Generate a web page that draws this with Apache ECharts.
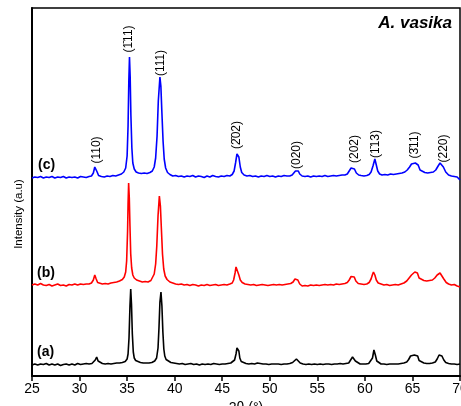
<!DOCTYPE html>
<html>
<head>
<meta charset="utf-8">
<script src="https://cdn.jsdelivr.net/npm/echarts@6/dist/echarts.min.js"></script>
<style>
  html, body { margin: 0; padding: 0; background: #fff; }
  #xrd { width: 461px; height: 406px; }
</style>
</head>
<body>
<div id="xrd"></div>
<script>
// 2θ axis ticks
const xTicks = [25, 30, 35, 40, 45, 50, 55, 60, 65, 70];

// patterns: [2θ, intensity (a.u., offset stacked)]
const patternA = [
  [25,11],[25.3,12],[25.6,11],[25.9,12],[26.2,11.5],[26.5,12.5],[26.8,11],[27.1,12],[27.4,11],[27.7,12],
  [28,10.5],[28.3,11.5],[28.6,12],[28.9,11],[29.2,12],[29.5,11],[29.8,12.5],[30.1,11.5],[30.4,12],[30.7,12.5],
  [31,12],[31.3,12.5],[31.5,13.5],[31.65,16],[31.8,19],[31.95,15],[32.1,13],[32.4,12.5],[32.7,12],[33,12.5],
  [33.3,12],[33.6,12.5],[33.9,13],[34.2,13],[34.5,13.5],[34.8,14.5],[35.0,17],[35.1,22],[35.2,38],[35.3,70],
  [35.38,87],[35.46,72],[35.55,42],[35.65,24],[35.75,18],[35.9,15.5],[36.1,14],[36.4,13.5],[36.7,13],[37,13],
  [37.3,13],[37.6,13.5],[37.9,15],[38.1,18],[38.25,28],[38.35,48],[38.45,74],[38.56,84],[38.66,70],[38.76,44],
  [38.86,27],[38.96,20],[39.1,16.5],[39.3,14.5],[39.6,13.5],[39.9,13],[40.2,12.5],[40.5,12],[40.8,12.5],[41.1,11.5],
  [41.4,12],[41.7,12.5],[42,11.5],[42.3,12],[42.6,11],[42.9,12],[43.2,11.5],[43.5,12],[43.8,11.5],[44.1,12.5],
  [44.4,12],[44.7,11.5],[45,12],[45.3,12],[45.6,12.5],[45.9,13],[46.1,13.5],[46.3,16],[46.45,22],[46.55,28],
  [46.65,29],[46.75,25],[46.85,18],[47,14.5],[47.2,13],[47.5,12.5],[47.8,12],[48.1,12.5],[48.4,12],[48.7,13],
  [49,12.5],[49.3,12],[49.6,12],[49.9,11.5],[50.2,12],[50.5,12],[50.7,13],[50.9,12],[51.2,11.5],[51.5,12],
  [51.8,12],[52.1,12.5],[52.4,13.5],[52.6,15.5],[52.8,17],[53,15],[53.2,13],[53.5,12],[53.8,11.5],[54.1,12],
  [54.4,11.5],[54.7,12],[55,11.5],[55.3,12],[55.6,11.5],[55.9,12],[56.2,12],[56.5,11.5],[56.8,12],[57.1,12],
  [57.4,12.5],[57.7,12],[58,12.5],[58.3,13],[58.5,15],[58.7,19],[58.85,18],[59,15],[59.2,13],[59.5,12],
  [59.8,12],[60.1,12],[60.4,12.5],[60.6,13.5],[60.8,18],[60.95,26],[61.1,21],[61.25,15],[61.4,13],[61.7,12],
  [62,12],[62.3,11.5],[62.6,12],[62.9,12],[63.2,12],[63.5,12],[63.8,12.5],[64.1,13],[64.4,14],[64.6,16.5],
  [64.8,20],[65,20.5],[65.2,21],[65.4,23],[65.55,20],[65.7,15.5],[65.9,13.5],[66.2,13],[66.5,12.5],[66.8,12.5],
  [67.1,13],[67.4,14],[67.6,17],[67.8,21],[67.95,23],[68.1,20],[68.3,16],[68.5,13.5],[68.8,12.5],[69.1,12],
  [69.4,12],[69.7,11.5],[70,12]
];

const patternB = [
  [25,91],[25.3,92],[25.6,91],[25.9,92.5],[26.2,91],[26.5,90.5],[26.8,91.5],[27.1,90],[27.4,91],[27.7,92],
  [28,90.5],[28.3,91],[28.6,90],[28.9,91.5],[29.2,91],[29.5,92],[29.8,91],[30.1,92],[30.4,91.5],[30.7,92],
  [31,92],[31.25,93],[31.45,96],[31.6,101],[31.75,97],[31.9,93.5],[32.1,92.5],[32.4,92],[32.7,92.5],[33,92],
  [33.3,93],[33.6,93.5],[33.9,94],[34.2,95],[34.5,96.5],[34.7,99],[34.85,104],[34.95,115],[35.05,145],[35.1,172],
  [35.16,193],[35.23,178],[35.3,150],[35.38,122],[35.48,108],[35.6,101],[35.75,98],[36,96],[36.3,95],[36.6,94],
  [36.9,94.5],[37.2,94],[37.5,95.5],[37.7,97.5],[37.85,102],[38,112],[38.12,130],[38.25,160],[38.39,180],[38.5,170],
  [38.6,148],[38.72,122],[38.85,107],[39,100],[39.2,96.5],[39.5,94],[39.8,93],[40.1,92],[40.4,91.5],[40.7,92],
  [41,91],[41.3,91.5],[41.6,90.5],[41.9,91.5],[42.2,91],[42.5,90],[42.8,91],[43.1,90.5],[43.4,91.5],[43.7,90.5],
  [44,91],[44.3,91.5],[44.6,90.5],[44.9,91],[45.2,91.5],[45.5,91],[45.8,92],[46.05,93],[46.2,96],[46.35,103],
  [46.45,109],[46.52,111],[46.62,109],[46.75,101],[46.9,96],[47.1,93.5],[47.4,92],[47.7,91.5],[48,91],[48.3,91.5],
  [48.6,90.5],[48.9,91],[49.2,91.5],[49.5,91],[49.8,90.5],[50.1,91],[50.4,91.5],[50.7,91],[51,91.5],[51.3,91],
  [51.6,91.5],[51.9,92],[52.2,92.5],[52.45,94],[52.65,97],[52.78,99],[52.95,96],[53.15,92],[53.4,90],[53.7,90.5],
  [54,90],[54.3,91],[54.6,90.5],[54.9,91],[55.2,90.5],[55.5,91],[55.8,91.5],[56.1,91],[56.4,91.5],[56.7,91],
  [57,92],[57.3,91.5],[57.6,92],[57.9,92.5],[58.15,93.5],[58.35,96],[58.55,99.5],[58.72,101],[58.88,99],[59.05,95],
  [59.3,92.5],[59.6,92],[59.9,91.5],[60.2,92],[60.45,93.5],[60.65,97],[60.8,101.5],[60.9,104],[61.05,101],[61.2,96],
  [61.4,93],[61.7,92],[62,91],[62.3,91.5],[62.6,90.5],[62.9,91],[63.2,91.5],[63.5,91],[63.8,92],[64.1,93],
  [64.4,95],[64.65,98],[64.9,101],[65.1,100.5],[65.25,104],[65.38,106],[65.52,103],[65.7,98],[65.9,96],[66.2,95.5],
  [66.5,95],[66.8,95.5],[67.1,96],[67.35,98],[67.6,101],[67.9,103],[68.1,101],[68.3,97],[68.55,93.5],[68.8,92],
  [69.1,91],[69.4,91.5],[69.7,90],[70,89]
];

const patternC = [
  [25,198],[25.3,199],[25.6,198.5],[25.9,199.5],[26.2,198],[26.5,199],[26.8,198.5],[27.1,199.5],[27.4,198],[27.7,199],
  [28,198.5],[28.3,199.5],[28.6,198],[28.9,199],[29.2,198.5],[29.5,199],[29.8,198],[30.1,199.5],[30.4,199],[30.7,198.5],
  [31,199.5],[31.25,200],[31.45,203],[31.6,209],[31.7,210],[31.85,204],[32,200.5],[32.3,199.5],[32.6,199],[32.9,200],
  [33.2,199.5],[33.5,200.5],[33.8,200],[34.1,201],[34.4,202],[34.65,204],[34.85,208],[35.0,220],[35.1,250],[35.18,295],
  [35.25,319],[35.32,300],[35.4,260],[35.5,228],[35.6,213],[35.75,207],[35.95,204],[36.2,203],[36.5,202.5],[36.8,203],
  [37.1,202.5],[37.4,203.5],[37.65,205],[37.85,209],[38.0,218],[38.15,240],[38.28,275],[38.45,299],[38.55,290],[38.65,265],
  [38.78,235],[38.9,217],[39.05,208],[39.25,203.5],[39.5,201.5],[39.8,200],[40.1,200.5],[40.4,199.5],[40.7,200],[41,199],
  [41.3,200],[41.6,199.5],[41.9,200.5],[42.2,199],[42.5,200],[42.8,199.5],[43.1,198.5],[43.4,200],[43.7,199],[44,200.5],
  [44.3,199.5],[44.6,199],[44.9,200],[45.2,199.5],[45.5,200.5],[45.8,200],[46.05,201.5],[46.25,205],[46.4,213],[46.55,222],
  [46.65,224],[46.75,219],[46.9,209],[47.05,203.5],[47.3,201],[47.6,200],[47.9,200.5],[48.2,199.5],[48.5,200],[48.8,199],
  [49.1,200],[49.4,199.5],[49.7,200.5],[50,199.5],[50.3,200],[50.6,199],[50.9,200],[51.2,199.5],[51.5,200.5],[51.8,200],
  [52.1,200],[52.35,201],[52.55,203],[52.7,205],[52.85,204],[53,205],[53.15,202],[53.4,200],[53.7,199.5],[54,200],
  [54.3,199],[54.6,200],[54.9,199.5],[55.2,200],[55.5,199.5],[55.8,200.5],[56.1,199.5],[56.4,200],[56.7,200.5],[57,200],
  [57.3,200.5],[57.6,201],[57.9,201],[58.15,202],[58.35,204],[58.55,208],[58.75,210],[58.9,207],[59.1,203],[59.35,201],
  [59.6,200.5],[59.9,200],[60.2,200.5],[60.45,201.5],[60.65,204],[60.85,210],[61.05,217],[61.2,211],[61.35,205],[61.55,202],
  [61.8,201],[62.1,201.5],[62.4,201],[62.7,202],[63,201.5],[63.3,202],[63.6,202.5],[63.9,203],[64.2,204],[64.45,206],
  [64.7,209],[64.9,212],[65.1,210],[65.3,213],[65.45,215],[65.6,211],[65.8,206],[66,204],[66.3,203.5],[66.6,203],
  [66.9,203.5],[67.2,204],[67.45,206],[67.7,210],[67.9,213],[68.05,213],[68.25,209],[68.5,204],[68.8,201],[69.1,200],
  [69.4,199.5],[69.7,199],[69.9,198],[70,196]
];

// Miller indices over pattern (c) and where their text sits
const peakNames = ['(110)', '(1\u030411)', '(111)', '(2\u030402)', '(020)', '(202)', '(1\u030413)', '(3\u030411)', '(220)'];
const peakLabelAt = [[31.8, 226], [35.2, 337], [38.5, 313], [46.56, 241], [52.81, 221], [58.96, 227], [61.1, 232], [65.22, 231], [68.27, 227.5]];

const chart = echarts.init(document.getElementById('xrd'));

const lineSeries = (data, color, extra) => Object.assign({
  type: 'line',
  data: data,
  showSymbol: false,
  symbol: 'none',
  lineStyle: { color: color, width: 1.6 },
  silent: true,
  z: 3
}, extra || {});

chart.setOption({
  animation: false,
  backgroundColor: '#fff',
  grid: {
    left: 32, right: 1, top: 8, bottom: 30,
    outerBoundsMode: 'none',
    containLabel: false,
    show: true, borderColor: '#000', borderWidth: 1.5, backgroundColor: 'transparent'
  },
  xAxis: {
    type: 'value',
    min: xTicks[0],
    max: xTicks[xTicks.length - 1],
    interval: xTicks[1] - xTicks[0],
    name: '2\u03b8 (\u00b0)',
    nameLocation: 'middle',
    nameGap: 20,
    nameTextStyle: { color: '#000', fontSize: 14, fontFamily: 'Liberation Sans, Arial, sans-serif' },
    axisLine: { show: true, lineStyle: { color: '#000', width: 2 } },
    axisTick: { show: true, inside: false, length: 5, lineStyle: { color: '#000', width: 1.5 } },
    axisLabel: { color: '#000', fontSize: 14, margin: 6, fontFamily: 'Liberation Sans, Arial, sans-serif', hideOverlap: false },
    splitLine: { show: false }
  },
  yAxis: {
    type: 'value',
    min: 0,
    max: 368,
    axisLine: { show: true, lineStyle: { color: '#000', width: 2 } },
    axisTick: { show: false },
    axisLabel: { show: false },
    splitLine: { show: false }
  },
  series: [
    lineSeries(patternA, '#000000'),
    lineSeries(patternB, '#ff0000'),
    lineSeries(patternC, '#0000ff', {
      markPoint: {
        symbol: 'circle',
        symbolSize: 0,
        silent: true,
        label: {
          show: true,
          position: 'inside',
          rotate: 90,
          color: '#000',
          fontSize: 12,
          fontFamily: 'Liberation Sans, Arial, sans-serif',
          formatter: p => p.name
        },
        data: peakNames.map((n, i) => ({ name: n, coord: peakLabelAt[i] }))
      }
    })
  ],
  graphic: [
    {
      type: 'text', right: 9, top: 15,
      style: { text: 'A. vasika', fill: '#000', font: 'italic bold 17px "Liberation Sans", Arial, sans-serif' }
    },
    {
      type: 'text', x: 19, y: 214, rotation: Math.PI / 2,
      style: {
        text: 'Intensity (a.u)', fill: '#000',
        font: '11.5px "Liberation Sans", Arial, sans-serif',
        align: 'center', verticalAlign: 'middle', textAlign: 'center', textVerticalAlign: 'middle'
      }
    },
    {
      type: 'text', x: 38, y: 165,
      style: { text: '(c)', fill: '#000', font: 'bold 14px "Liberation Sans", Arial, sans-serif', verticalAlign: 'middle', textVerticalAlign: 'middle' }
    },
    {
      type: 'text', x: 37, y: 273,
      style: { text: '(b)', fill: '#000', font: 'bold 14px "Liberation Sans", Arial, sans-serif', verticalAlign: 'middle', textVerticalAlign: 'middle' }
    },
    {
      type: 'text', x: 37, y: 352,
      style: { text: '(a)', fill: '#000', font: 'bold 14px "Liberation Sans", Arial, sans-serif', verticalAlign: 'middle', textVerticalAlign: 'middle' }
    }
  ]
});
</script>
</body>
</html>
